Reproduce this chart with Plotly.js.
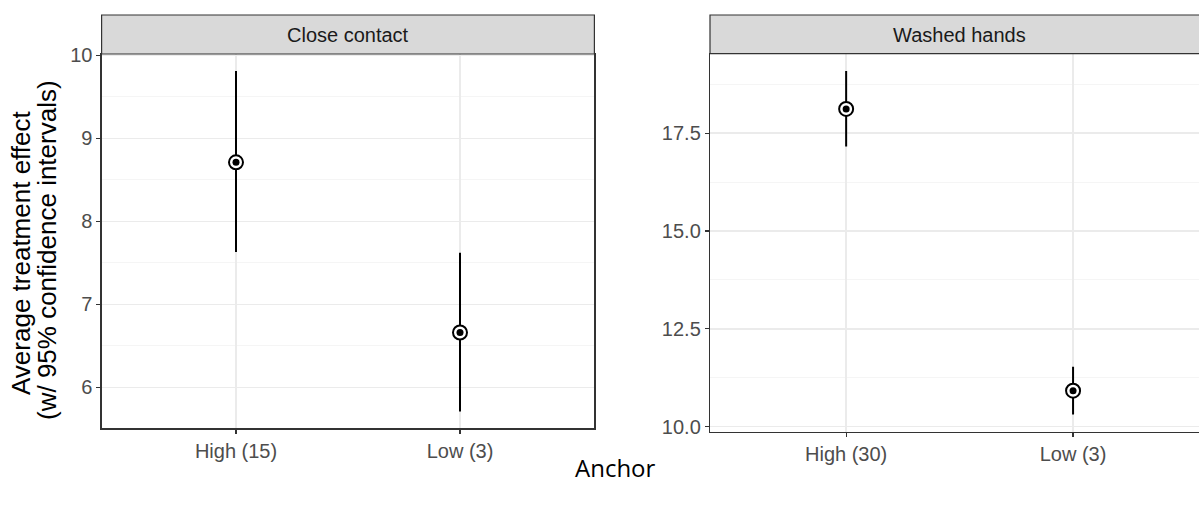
<!DOCTYPE html>
<html>
<head>
<meta charset="utf-8">
<script src="https://cdn.plot.ly/plotly-3.0.1.min.js"></script>
<style>html,body{margin:0;padding:0;background:#fff;}#chart{width:1199px;height:507px;}</style>
</head>
<body>
<div id="chart"></div>
<script>
// ---- data ----
var closeCategories = ['High (15)', 'Low (3)'];
var closeEstimate = [8.71, 6.66];
var closeLower = [7.63, 5.71];
var closeUpper = [9.81, 7.62];

var washCategories = ['High (30)', 'Low (3)'];
var washEstimate = [18.12, 10.92];
var washLower = [17.16, 10.31];
var washUpper = [19.09, 11.53];

var panelTitles = ['Close contact', 'Washed hands'];
var yTitleLines = ['Average treatment effect', '(w/ 95% confidence intervals)'];
var xTitle = 'Anchor';

// ---- geometry (pixels) ----
var W = 1199, H = 507;
function px(x) { return x / W; }
function py(y) { return 1 - y / H; }

function diff(a, b) { return a.map(function (v, i) { return v - b[i]; }); }

function panelTraces(cats, est, lo, hi, xa, ya) {
  return [
    {
      type: 'scatter', mode: 'markers', x: cats, y: est, xaxis: xa, yaxis: ya,
      marker: {color: 'rgba(0,0,0,0)', size: 1},
      error_y: {type: 'data', symmetric: false, array: diff(hi, est), arrayminus: diff(est, lo),
        color: '#000', thickness: 2, width: 0},
      hoverinfo: 'skip', showlegend: false
    },
    {
      type: 'scatter', mode: 'markers', x: cats, y: est, xaxis: xa, yaxis: ya,
      marker: {symbol: 'circle', color: '#fff', size: 14, line: {color: '#000', width: 2}},
      showlegend: false
    },
    {
      type: 'scatter', mode: 'markers', x: cats, y: est, xaxis: xa, yaxis: ya,
      marker: {symbol: 'circle', color: '#000', size: 7},
      showlegend: false
    }
  ];
}

var data = [].concat(
  panelTraces(closeCategories, closeEstimate, closeLower, closeUpper, 'x', 'y'),
  panelTraces(washCategories, washEstimate, washLower, washUpper, 'x2', 'y2')
);

var sans = 'Liberation Sans, Arial, sans-serif';
var tickFont = {family: sans, size: 20, color: '#4D4D4D'};
var border = '#333333';
var grid = '#EBEBEB';

function commonAxis(extra) {
  var a = {
    showgrid: true, gridcolor: grid, gridwidth: 1.5,
    showline: true, mirror: true, linecolor: border, linewidth: 1.2,
    ticks: 'outside', ticklen: 4, tickcolor: border, tickwidth: 1.2,
    tickfont: tickFont, zeroline: false, fixedrange: true
  };
  for (var k in extra) a[k] = extra[k];
  return a;
}

var layout = {
  width: W, height: H,
  margin: {l: 0, r: 0, t: 0, b: 0},
  paper_bgcolor: '#fff', plot_bgcolor: '#fff',
  showlegend: false,
  xaxis: commonAxis({domain: [px(101.6), px(594.4)], anchor: 'y', type: 'category', range: [-0.6, 1.6]}),
  yaxis: commonAxis({
    domain: [py(428.4), py(54)], anchor: 'x', range: [5.505, 10.015], tick0: 0, dtick: 1,
    minor: {tick0: 0, dtick: 0.5, showgrid: true, gridcolor: '#F2F2F2', gridwidth: 0.8, ticks: ''}
  }),
  xaxis2: commonAxis({domain: [px(710), 1], anchor: 'y2', type: 'category', range: [-0.6, 1.555]}),
  yaxis2: commonAxis({
    domain: [py(431.8), py(53.7)], anchor: 'x2', range: [9.87, 19.53], tick0: 0, dtick: 2.5, tickformat: '.1f',
    mirror: false,
    minor: {tick0: 0, dtick: 1.25, showgrid: true, gridcolor: '#F2F2F2', gridwidth: 0.8, ticks: ''}
  }),
  shapes: [
    {type: 'rect', xref: 'paper', yref: 'paper', x0: px(101.6), x1: px(594.4), y0: py(54), y1: py(15),
      fillcolor: '#D9D9D9', line: {color: border, width: 1.2}, layer: 'above'},
    {type: 'rect', xref: 'paper', yref: 'paper', x0: px(710), x1: px(1215), y0: py(53.7), y1: py(15),
      fillcolor: '#D9D9D9', line: {color: border, width: 1.2}, layer: 'above'}
  ],
  annotations: [
    {text: panelTitles[0], xref: 'paper', yref: 'paper', x: px(348), y: py(35), showarrow: false,
      xanchor: 'center', yanchor: 'middle', font: {family: sans, size: 20, color: '#1A1A1A'}},
    {text: panelTitles[1], xref: 'paper', yref: 'paper', x: px(959.5), y: py(35), showarrow: false,
      xanchor: 'center', yanchor: 'middle', font: {family: sans, size: 20, color: '#1A1A1A'}},
    {text: yTitleLines[0], xref: 'paper', yref: 'paper', x: px(21), y: py(253), showarrow: false, textangle: -90,
      xanchor: 'center', yanchor: 'middle', font: {family: sans, size: 26, color: '#000'}},
    {text: yTitleLines[1], xref: 'paper', yref: 'paper', x: px(47), y: py(250), showarrow: false, textangle: -90,
      xanchor: 'center', yanchor: 'middle', font: {family: sans, size: 26, color: '#000'}},
    {text: xTitle, xref: 'paper', yref: 'paper', x: px(615), y: py(467), showarrow: false,
      xanchor: 'center', yanchor: 'middle', font: {family: 'Open Sans, sans-serif', size: 24, color: '#000'}}
  ]
};

Plotly.newPlot('chart', data, layout, {displayModeBar: false, staticPlot: true});
</script>
</body>
</html>
